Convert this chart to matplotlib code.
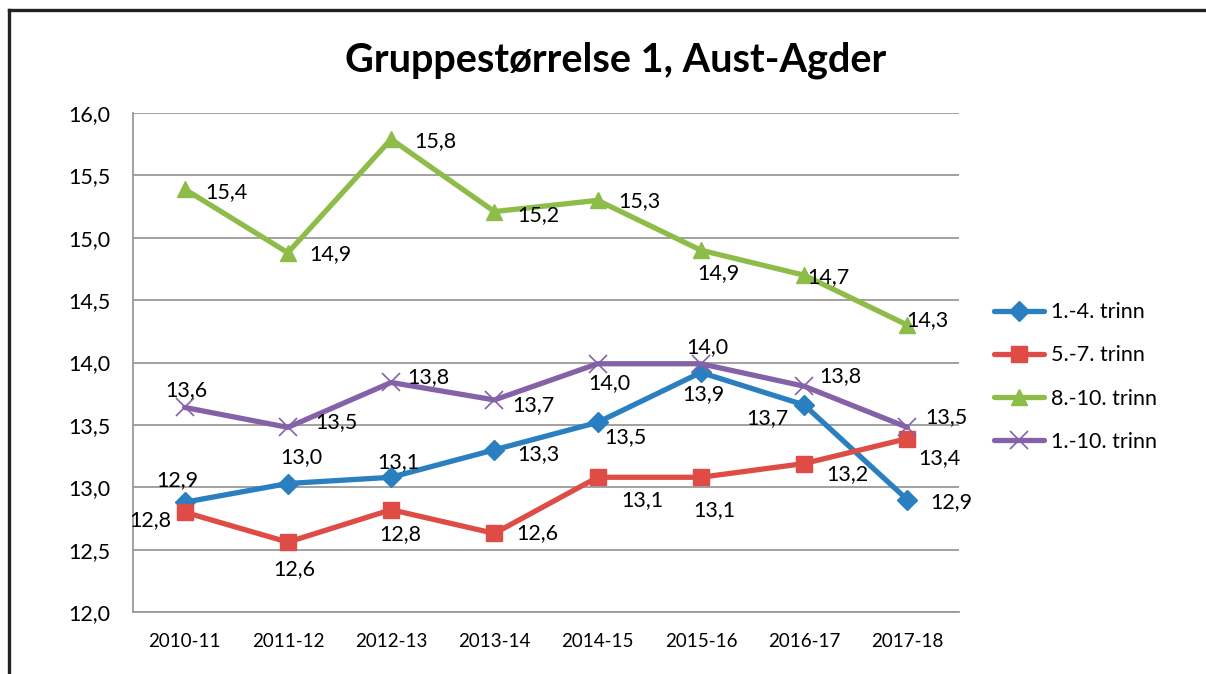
import matplotlib
matplotlib.use("Agg")
import matplotlib.pyplot as plt
from matplotlib.ticker import FuncFormatter, MultipleLocator

plt.rcParams['font.family'] = ['Lato', 'DejaVu Sans']

title = "Gruppestørrelse 1, Aust-Agder"
years = ["2010-11", "2011-12", "2012-13", "2013-14", "2014-15", "2015-16", "2016-17", "2017-18"]
series_names = ["1.-4. trinn", "5.-7. trinn", "8.-10. trinn", "1.-10. trinn"]
trinn_1_4 = [12.88, 13.03, 13.08, 13.30, 13.52, 13.92, 13.66, 12.90]
trinn_5_7 = [12.80, 12.56, 12.82, 12.63, 13.08, 13.08, 13.19, 13.39]
trinn_8_10 = [15.39, 14.88, 15.79, 15.21, 15.30, 14.90, 14.70, 14.30]
trinn_1_10 = [13.64, 13.48, 13.84, 13.70, 13.99, 13.99, 13.81, 13.48]

# label offsets in pixels (dx right, dy down) relative to each point
off_1_4 = [(-7, -22), (13, -26), (7, -15), (44, 4), (28, 15), (3, 22), (-37, 13), (44, 2)]
off_5_7 = [(-34, 8), (6, 27), (9, 24), (43, 0), (45, 23), (13, 33), (43, 11), (32, 19)]
off_8_10 = [(42, 3), (43, 1), (44, 2), (44, 4), (42, 1), (18, 23), (24, 2), (20, -5)]
off_1_10 = [(2, -17), (49, -5), (37, -5), (39, 5), (12, 19), (6, -17), (36, -10), (39, -10)]

colors = ["#2A7FC1", "#DF4C46", "#8DBC48", "#8562A8"]
markers = ["D", "s", "^", "x"]
msizes = [10, 11, 12, 13]

W, H = 1206, 674
fig = plt.figure(figsize=(W / 100, H / 100), dpi=100)
ax = fig.add_axes([133 / W, (H - 612) / H, 826 / W, 499 / H])

x = list(range(len(years)))
data = [trinn_1_4, trinn_5_7, trinn_8_10, trinn_1_10]
offs = [off_1_4, off_5_7, off_8_10, off_1_10]
lines = []
for vals, name, c, m, ms, off in zip(data, series_names, colors, markers, msizes, offs):
    kw = dict(color=c, lw=3.8, marker=m, markersize=ms, label=name, zorder=3,
              solid_joinstyle='round', solid_capstyle='round')
    if m == "x":
        kw.update(markeredgewidth=1.2)
    ln, = ax.plot(x, vals, **kw)
    lines.append(ln)
    for xi, v, (dx, dy) in zip(x, vals, off):
        ax.annotate(f"{v:.1f}".replace(".", ","), (xi, v), xytext=(dx * 0.72, -dy * 0.72),
                    textcoords="offset points", ha="center", va="center",
                    fontsize=15.5, color="black", zorder=4)

ax.set_xlim(-0.5, len(years) - 0.5)
ax.set_ylim(12, 16)
ax.yaxis.set_major_locator(MultipleLocator(0.5))
ax.yaxis.set_major_formatter(FuncFormatter(lambda v, p: f"{v:.1f}".replace(".", ",")))
ax.set_xticks(x)
ax.set_xticklabels(years)
ax.grid(axis="y", color="#9a9a9a", lw=1.3, zorder=0)
ax.set_axisbelow(True)
for s in ["top", "right"]:
    ax.spines[s].set_visible(False)
for s in ["left", "bottom"]:
    ax.spines[s].set_color("#9a9a9a")
    ax.spines[s].set_linewidth(1.3)
ax.tick_params(axis="y", length=0, pad=16, labelsize=15.5)
ax.tick_params(axis="x", length=0, pad=15, labelsize=13.5)

fig.text(616 / W, 1 - 60 / H, title, ha="center", va="center", fontsize=28.5, fontweight="bold")

leg = fig.legend(handles=lines, labels=series_names, loc="center left",
                 bbox_to_anchor=(994 / W, 1 - 377 / H), frameon=False, fontsize=15.5,
                 handlelength=2.3, handletextpad=0.35, labelspacing=1.08,
                 borderpad=0, borderaxespad=0)

# outer frame (top and left borders)
fig.add_artist(plt.Line2D([9 / W, 1], [1 - 10 / H, 1 - 10 / H], transform=fig.transFigure,
                          color="#222222", lw=2.4))
fig.add_artist(plt.Line2D([9 / W, 9 / W], [0, 1 - 10 / H], transform=fig.transFigure,
                          color="#222222", lw=2.4))

fig.savefig("out.png", dpi=100)
